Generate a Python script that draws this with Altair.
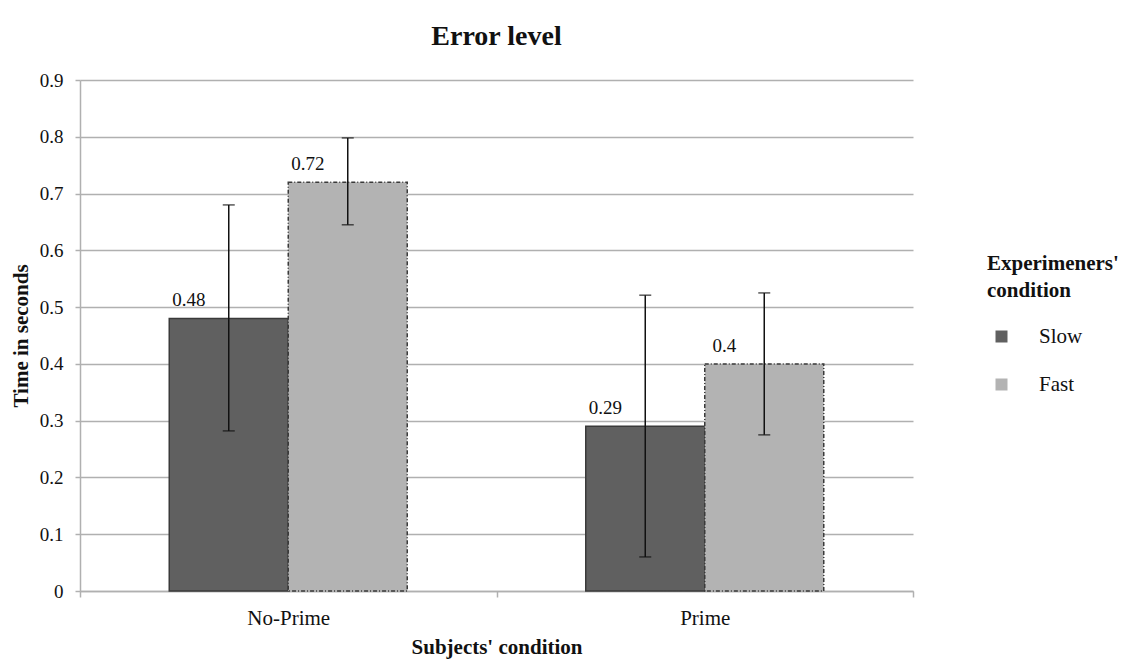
import altair as alt
import pandas as pd

subjects = ["No-Prime", "No-Prime", "Prime", "Prime"]
experimenters = ["Slow", "Fast", "Slow", "Fast"]
means = [0.48, 0.72, 0.29, 0.40]
err_low = [0.282, 0.645, 0.060, 0.275]
err_high = [0.680, 0.798, 0.521, 0.525]
labels = ["0.48", "0.72", "0.29", "0.4"]

df = pd.DataFrame({
    "subj": subjects,
    "exp": experimenters,
    "mean": means,
    "lo": err_low,
    "hi": err_high,
    "label": labels,
})

FONT = "serif"
order = ["Slow", "Fast"]
cats = ["No-Prime", "Prime"]

x_enc = alt.X("subj:N", title="Subjects' condition",
              scale=alt.Scale(paddingInner=0, paddingOuter=0),
              sort=cats,
              axis=alt.Axis(labelAngle=0, tickBand="extent", tickSize=6,
                            labelPadding=10, titlePadding=8, labelFontSize=21,
                            titleFontSize=21, grid=False, domainColor="#b0b0b0",
                            tickColor="#b0b0b0", domainWidth=1.5, tickWidth=1.5))
xo = alt.XOffset("exp:N", sort=order,
                 scale=alt.Scale(paddingInner=0, paddingOuter=0.75))
y_scale = alt.Scale(domain=[0, 0.9], nice=False)

legend = alt.Legend(title=["Experimeners'", "condition"])

bars = alt.Chart(df).mark_bar(strokeWidth=1.5, stroke="#3a3a3a").encode(
    x=x_enc,
    xOffset=xo,
    y=alt.Y("mean:Q", scale=y_scale, title="Time in seconds",
            axis=alt.Axis(values=[0, 0.1, 0.2, 0.3, 0.4, 0.5, 0.6, 0.7, 0.8, 0.9],
                          format="~g", tickSize=5, labelPadding=12, titlePadding=8,
                          labelFontSize=19, titleFontSize=21,
                          grid=True, gridColor="#b0b0b0", gridWidth=1.5,
                          domainColor="#b0b0b0", tickColor="#b0b0b0",
                          domainWidth=1.5, tickWidth=1.5)),
    fill=alt.Fill("exp:N", sort=order,
                  scale=alt.Scale(domain=order, range=["#606060", "#b3b3b3"]),
                  legend=legend),
    strokeDash=alt.StrokeDash("exp:N", sort=order,
                              scale=alt.Scale(domain=order, range=[[1, 0], [4, 2, 1, 2]]),
                              legend=legend),
)

rules = alt.Chart(df).mark_rule(color="#111111", strokeWidth=1.5).encode(
    x=alt.X("subj:N", sort=cats),
    xOffset=xo,
    y=alt.Y("lo:Q", scale=y_scale),
    y2="hi:Q",
)
cap_lo = alt.Chart(df).mark_tick(color="#111111", thickness=1.5).encode(
    x=alt.X("subj:N", sort=cats),
    xOffset=xo,
    y=alt.Y("lo:Q", scale=y_scale),
    size=alt.value(12),
)
cap_hi = alt.Chart(df).mark_tick(color="#111111", thickness=1.5).encode(
    x=alt.X("subj:N", sort=cats),
    xOffset=xo,
    y=alt.Y("hi:Q", scale=y_scale),
    size=alt.value(12),
)
text = alt.Chart(df).mark_text(font=FONT, fontSize=19, baseline="bottom",
                               dx=-40, dy=-8, color="#111111").encode(
    x=alt.X("subj:N", sort=cats),
    xOffset=xo,
    y=alt.Y("mean:Q", scale=y_scale),
    text="label:N",
)

chart = alt.layer(bars, rules, cap_lo, cap_hi, text).properties(
    width=833, height=511,
    autosize=alt.AutoSizeParams(type="none"),
    padding={"left": 72, "top": 72, "right": 211, "bottom": 70},
    title=alt.TitleParams("Error level", font=FONT, fontSize=28, fontWeight="bold",
                          anchor="middle", offset=20, color="#111111"),
).configure(
    font=FONT,
).configure_view(
    stroke=None,
).configure_axis(
    labelFont=FONT, titleFont=FONT, labelColor="#111111", titleColor="#111111",
    titleFontWeight="bold",
).configure_legend(
    orient="none", legendX=907, legendY=173,
    titleFont=FONT, titleFontSize=21, titleFontWeight="bold", titleColor="#111111",
    titleLineHeight=27, titlePadding=25, titleLimit=300,
    labelFont=FONT, labelFontSize=21, labelColor="#111111",
    symbolType="square", symbolSize=144, symbolStrokeWidth=1.5,
    symbolStrokeColor="#3a3a3a", symbolOffset=4,
    labelOffset=27, rowPadding=26,
)

chart.save("out.html", embed_options={"renderer": "svg", "actions": False})
